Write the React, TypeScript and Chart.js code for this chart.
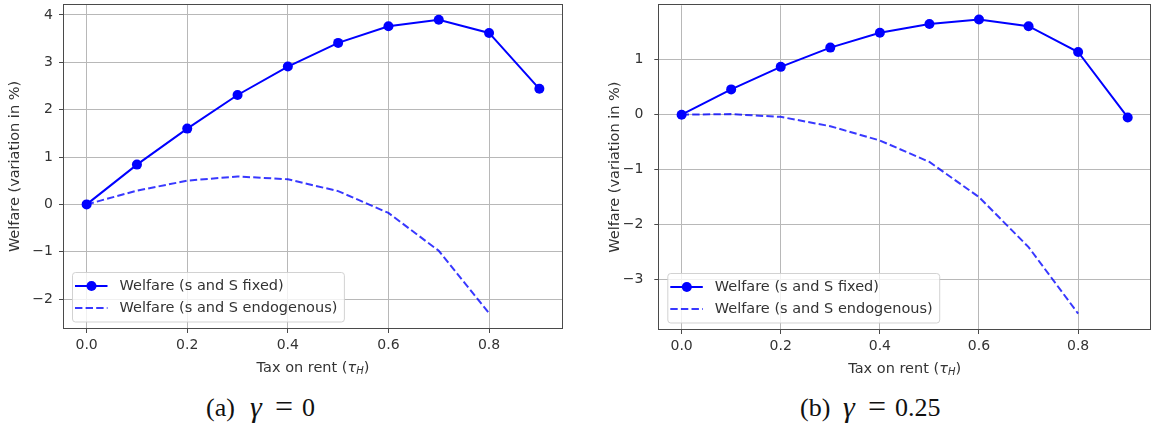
import React, { useEffect, useRef } from 'react';
import { Chart, registerables } from 'chart.js';

Chart.register(...registerables);

// ---------- data ----------
const taxRates = [0, 0.1, 0.2, 0.3, 0.4, 0.5, 0.6, 0.7, 0.8, 0.9];
const taxRatesEndo = [0, 0.1, 0.2, 0.3, 0.4, 0.5, 0.6, 0.7, 0.8];

const fixedA = [0, 0.84, 1.6, 2.31, 2.91, 3.41, 3.76, 3.9, 3.62, 2.44];
const endoA = [0, 0.29, 0.5, 0.59, 0.53, 0.28, -0.18, -0.98, -2.3];

const fixedB = [0, 0.46, 0.87, 1.22, 1.49, 1.65, 1.73, 1.61, 1.14, -0.05];
const endoB = [0, 0.01, -0.04, -0.21, -0.47, -0.86, -1.5, -2.41, -3.62];

const xTicks = [0, 0.2, 0.4, 0.6, 0.8];
const xTickLabels = ['0.0', '0.2', '0.4', '0.6', '0.8'];
const yTicksA = [-2, -1, 0, 1, 2, 3, 4];
const yTicksB = [-3, -2, -1, 0, 1];

const seriesLabels = ['Welfare (s and S fixed)', 'Welfare (s and S endogenous)'];
const yTitle = 'Welfare (variation in %)';
const xTitleParts = ['Tax on rent (', 'τ', 'H', ')'];

// ---------- styles ----------
const FONT = '"DejaVu Sans", sans-serif';
const TEXT = '#333333';
const SPINE = '#4a4a4a';
const GRID = '#b8b8b8';
const BLUE = '#0000ff';
const BLUE_DASH = 'rgba(0,0,255,0.78)';

const fmtNum = (v: number) => (v < 0 ? '\u2212' + Math.abs(v) : String(v));

const decorPlugin = {
  id: 'decor',
  afterDraw(chart: any) {
    const { ctx, chartArea: ca } = chart;
    ctx.save();
    // frame (all four spines)
    ctx.strokeStyle = SPINE;
    ctx.lineWidth = 1;
    ctx.strokeRect(Math.round(ca.left) - 0.5, Math.round(ca.top) - 0.5, Math.round(ca.right) - Math.round(ca.left) + 1, Math.round(ca.bottom) - Math.round(ca.top) + 1);

    // x axis title with subscript
    const cx = (ca.left + ca.right) / 2;
    const ty = ca.bottom + 40;
    const normal = '14.5px ' + FONT;
    const ital = 'italic 14.5px ' + FONT;
    const sub = 'italic 10px ' + FONT;
    const fonts = [normal, ital, sub, normal];
    const widths = xTitleParts.map((t, i) => {
      ctx.font = fonts[i];
      return ctx.measureText(t).width;
    });
    let x = cx - widths.reduce((a, b) => a + b, 0) / 2;
    ctx.fillStyle = TEXT;
    ctx.textBaseline = 'middle';
    ctx.textAlign = 'left';
    xTitleParts.forEach((t, i) => {
      ctx.font = fonts[i];
      ctx.fillText(t, x, i === 2 ? ty + 3 : ty);
      x += widths[i];
    });

    // legend (lower left, inside plot)
    ctx.font = '14.5px ' + FONT;
    const labels = chart.data.datasets.map((d: any) => d.label);
    const textW = Math.max(...labels.map((l: string) => ctx.measureText(l).width));
    const bx = ca.left + 8;
    const bh = 49.5;
    const by = ca.bottom - 6.5 - bh;
    const textX = bx + 47.5;
    const bw = textX - bx + textW + 6.5;
    ctx.beginPath();
    ctx.roundRect(bx + 0.5, by + 0.5, bw, bh, 3);
    ctx.fillStyle = 'rgba(255,255,255,0.8)';
    ctx.fill();
    ctx.strokeStyle = 'rgba(205,205,205,0.9)';
    ctx.lineWidth = 1;
    ctx.stroke();
    chart.data.datasets.forEach((d: any, i: number) => {
      const ry = by + 14 + i * 22;
      ctx.save();
      ctx.strokeStyle = d.borderColor;
      ctx.lineWidth = d.borderWidth;
      ctx.setLineDash(d.borderDash || []);
      ctx.beginPath();
      ctx.moveTo(bx + 3, ry);
      ctx.lineTo(bx + 35.5, ry);
      ctx.stroke();
      ctx.restore();
      if (d.pointRadius > 0) {
        ctx.beginPath();
        ctx.arc(bx + 19.5, ry, d.pointRadius, 0, Math.PI * 2);
        ctx.fillStyle = d.pointBackgroundColor;
        ctx.fill();
      }
      ctx.fillStyle = TEXT;
      ctx.textBaseline = 'middle';
      ctx.fillText(d.label, textX, ry + 0.5);
    });
    ctx.restore();
  },
};

type PanelProps = {
  fixed: number[];
  endo: number[];
  yTicks: number[];
  yMin: number;
  yMax: number;
  padLeft: number;
  padRight: number;
  padTop: number;
  yWidth: number;
  yTickPad: number;
  xHeight: number;
  left: number;
};

function Panel(p: PanelProps) {
  const ref = useRef<HTMLCanvasElement>(null);
  useEffect(() => {
    if (!ref.current) return;
    const chart = new Chart(ref.current, {
      type: 'line',
      data: {
        datasets: [
          {
            label: seriesLabels[0],
            data: taxRates.map((x, i) => ({ x, y: p.fixed[i] })),
            borderColor: BLUE,
            backgroundColor: BLUE,
            borderWidth: 2,
            pointRadius: 5,
            pointBackgroundColor: BLUE,
            pointBorderWidth: 0,
            tension: 0,
            fill: false,
          } as any,
          {
            label: seriesLabels[1],
            data: taxRatesEndo.map((x, i) => ({ x, y: p.endo[i] })),
            borderColor: BLUE_DASH,
            backgroundColor: BLUE_DASH,
            borderWidth: 2,
            borderDash: [7.4, 3.2],
            pointRadius: 0,
            tension: 0,
            fill: false,
          } as any,
        ],
      },
      options: {
        animation: false,
        responsive: false,
        maintainAspectRatio: false,
        devicePixelRatio: 1,
        layout: { padding: { left: p.padLeft, right: p.padRight, top: p.padTop, bottom: 0 } },
        plugins: { legend: { display: false }, tooltip: { enabled: false } },
        scales: {
          x: {
            type: 'linear',
            min: -0.045,
            max: 0.945,
            afterBuildTicks: (s: any) => {
              s.ticks = xTicks.map((v) => ({ value: v }));
            },
            afterFit: (s: any) => {
              s.height = p.xHeight;
              s.paddingLeft = 0;
              s.paddingRight = 0;
              s.paddingTop = 0;
              s.paddingBottom = 0;
            },
            border: { display: false },
            grid: { color: GRID, lineWidth: 1, tickLength: 5, tickColor: SPINE, drawTicks: true },
            ticks: {
              font: { family: FONT, size: 14 },
              color: TEXT,
              padding: 4,
              maxRotation: 0,
              callback: (v: any) => {
                const i = xTicks.indexOf(Number(v));
                return i >= 0 ? xTickLabels[i] : '';
              },
            },
            title: { display: false },
          },
          y: {
            type: 'linear',
            min: p.yMin,
            max: p.yMax,
            afterBuildTicks: (s: any) => {
              s.ticks = p.yTicks.map((v) => ({ value: v }));
            },
            afterFit: (s: any) => {
              s.width = p.yWidth;
              s.paddingLeft = 0;
              s.paddingRight = 0;
              s.paddingTop = 0;
              s.paddingBottom = 0;
            },
            border: { display: false },
            grid: { color: GRID, lineWidth: 1, tickLength: 5, tickColor: SPINE, drawTicks: true },
            ticks: {
              font: { family: FONT, size: 14 },
              color: TEXT,
              padding: p.yTickPad,
              callback: (v: any) => fmtNum(Number(v)),
            },
            title: {
              display: true,
              text: yTitle,
              color: TEXT,
              font: { family: FONT, size: 14.5 },
              padding: { top: 7, bottom: 0 },
            },
          },
        },
      } as any,
      plugins: [decorPlugin],
    });
    return () => chart.destroy();
  }, []);
  return (
    <canvas
      ref={ref}
      width={575}
      height={385}
      style={{ position: 'absolute', left: p.left, top: 0, width: 575, height: 385 }}
    />
  );
}

const capStyle: React.CSSProperties = {
  position: 'absolute',
  top: 395,
  fontFamily: '"Liberation Serif", "DejaVu Serif", serif',
  fontSize: 26,
  lineHeight: '26px',
  color: '#111',
  whiteSpace: 'nowrap',
};
const eqStyle: React.CSSProperties = { ...capStyle, fontSize: 32, top: 393 };
const gammaStyle: React.CSSProperties = { ...capStyle, fontSize: 30, top: 394, fontStyle: 'italic' };

export default function App() {
  return (
    <div style={{ position: 'absolute', left: 0, top: 0, width: 1155, height: 433, background: '#fff', overflow: 'hidden' }}>
      <Panel fixed={fixedA} endo={endoA} yTicks={yTicksA} yMin={-2.61} yMax={4.21} padLeft={0} padRight={13} padTop={5} yWidth={64} yTickPad={6} xHeight={57} left={0} />
      <Panel fixed={fixedB} endo={endoB} yTicks={yTicksB} yMin={-3.9} yMax={1.99} padLeft={20} padRight={1.5} padTop={5.3} yWidth={59.3} yTickPad={11} xHeight={56} left={580} />
      <span style={{ ...capStyle, left: 206 }}>(a)</span>
      <span style={{ ...gammaStyle, left: 250 }}>γ</span>
      <span style={{ ...eqStyle, left: 275 }}>=</span>
      <span style={{ ...capStyle, left: 302 }}>0</span>
      <span style={{ ...capStyle, left: 800 }}>(b)</span>
      <span style={{ ...gammaStyle, left: 843 }}>γ</span>
      <span style={{ ...eqStyle, left: 868 }}>=</span>
      <span style={{ ...capStyle, left: 895 }}>0.25</span>
    </div>
  );
}
